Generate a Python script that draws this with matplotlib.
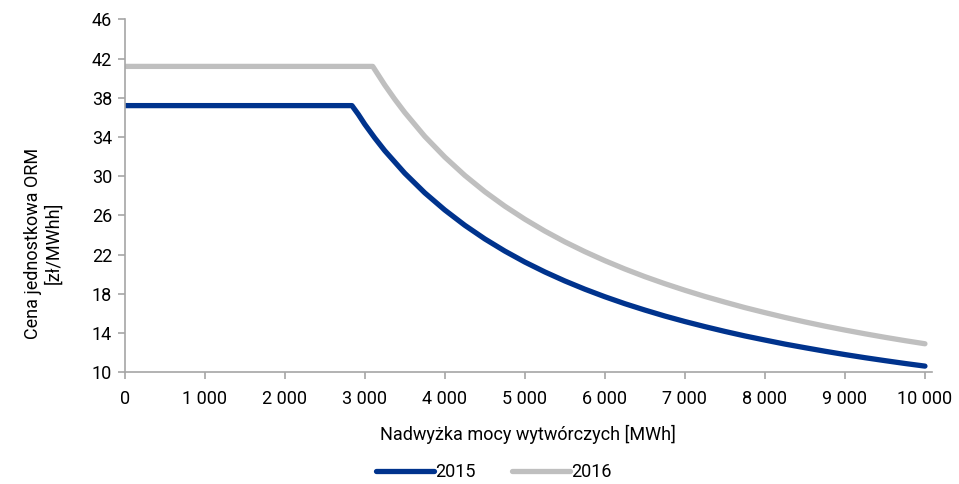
import matplotlib
matplotlib.use("Agg")
import matplotlib.pyplot as plt

# Data
x_2015 = [0, 2840, 2920, 3000, 3125, 3250, 3500, 3750, 4000, 4250, 4500, 4750, 5000, 5250, 5500, 5750,
          6000, 6250, 6500, 6750, 7000, 7250, 7500, 7750, 8000, 8250, 8500, 8750,
          9000, 9250, 9500, 9750, 10000]
y_2015 = [37.2, 37.2, 36.3, 35.3, 33.9, 32.6, 30.3, 28.3, 26.55, 24.99, 23.60, 22.36, 21.24, 20.23,
          19.31, 18.47, 17.70, 16.99, 16.34, 15.73, 15.17, 14.65, 14.16, 13.70, 13.28, 12.87,
          12.50, 12.14, 11.80, 11.48, 11.18, 10.89, 10.62]

x_2016 = [0, 3100, 3175, 3250, 3375, 3500, 3750, 4000, 4250, 4500, 4750, 5000, 5250, 5500, 5750,
          6000, 6250, 6500, 6750, 7000, 7250, 7500, 7750, 8000, 8250, 8500, 8750,
          9000, 9250, 9500, 9750, 10000]
y_2016 = [41.2, 41.2, 40.25, 39.3, 37.85, 36.5, 34.06, 31.95, 30.08, 28.42, 26.94, 25.61, 24.40,
          23.30, 22.30, 21.38, 20.53, 19.75, 19.03, 18.36, 17.73, 17.15, 16.59, 16.08, 15.59,
          15.13, 14.70, 14.30, 13.92, 13.56, 13.22, 12.90]

x_ticks = [0, 1000, 2000, 3000, 4000, 5000, 6000, 7000, 8000, 9000, 10000]
x_tick_labels = ["0", "1 000", "2 000", "3 000", "4 000", "5 000", "6 000", "7 000",
                 "8 000", "9 000", "10 000"]
y_ticks = [10, 14, 18, 22, 26, 30, 34, 38, 42, 46]

plt.rcParams['font.family'] = ['Roboto', 'DejaVu Sans']

fig = plt.figure(figsize=(9.59, 4.84), dpi=100)
ax = fig.add_axes([0.130, 0.231, 0.842, 0.729])

ax.plot(x_2015, y_2015, color="#00338D", lw=3.8, solid_capstyle="round",
        solid_joinstyle="round", label="2015")
ax.plot(x_2016, y_2016, color="#BFBFBF", lw=3.8, solid_capstyle="round",
        solid_joinstyle="round", label="2016")

ax.set_xlim(0, 10090)
ax.set_ylim(10, 46)
ax.set_xticks(x_ticks)
ax.set_xticklabels(x_tick_labels)
ax.set_yticks(y_ticks)

for s in ["top", "right"]:
    ax.spines[s].set_visible(False)
for s in ["left", "bottom"]:
    ax.spines[s].set_color("#A6A6A6")
    ax.spines[s].set_linewidth(1.2)
ax.tick_params(axis="both", colors="#A6A6A6", length=5, width=1.2, labelsize=13,
               labelcolor="black")
ax.tick_params(axis="x", pad=8)
ax.tick_params(axis="y", pad=4)

ax.set_xlabel("Nadwyżka mocy wytwórczych [MWh]", fontsize=13, labelpad=12)
fig.text(0.045, 0.498, "Cena jednostkowa ORM\n[zł/MWhh]", rotation=90,
         ha="center", va="center", fontsize=13, linespacing=1.1)

fig.legend(loc="center", bbox_to_anchor=(0.515, 0.025), ncol=2, frameon=False,
           fontsize=13, handlelength=3.2, columnspacing=2.0, handletextpad=0.1)

fig.savefig("out.png", dpi=100)
